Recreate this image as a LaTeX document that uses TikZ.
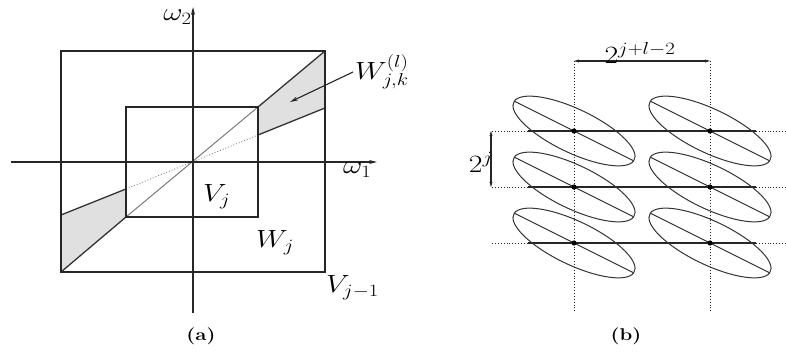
\documentclass[tikz,border=0pt]{standalone}
\usepackage{graphicx}
\usetikzlibrary{arrows.meta}
\newcommand\hstretch[1]{\scalebox{1.2}[1]{#1}}
\begin{document}
\begin{tikzpicture}[x=1pt,y=-1pt,
  lbl/.style={inner sep=0pt, font=\fontsize{27}{30}\selectfont},
  captxt/.style={inner sep=0pt, font=\fontsize{17}{19}\selectfont\bfseries},
  ln/.style={line width=1.2pt, draw=black!85},
  wedgeline/.style={line width=1.3pt, draw=black!80},
  ax/.style={line width=1.2pt, draw=black!85, -{Stealth[length=8pt,width=4pt]}},
  wfill/.style={fill=black!12},
  elli/.style={line width=1pt, draw=black!80},
  dgrid/.style={line width=0.9pt, draw=black!85, dotted},
  dimline/.style={line width=1.1pt, draw=black!85, {Stealth[length=5pt,width=3pt]}-{Stealth[length=5pt,width=3pt]}},
  dotf/.style={fill=black}
]
\useasboundingbox (0,0) rectangle (786,352);

% ---------- panel (a) ----------
\coordinate (O) at (193,162);
\coordinate (oTL) at (61,51);  \coordinate (oBR) at (325,272);
\coordinate (iTL) at (126,107); \coordinate (iBR) at (258,217);
\coordinate (oTR) at (325,51); \coordinate (oBL) at (61,272);
\coordinate (iTR) at (258,107); \coordinate (iBL) at (126,217);
\coordinate (uR) at (325,108); \coordinate (uI) at (258,135);
\coordinate (lL) at (61,215);  \coordinate (lI) at (126,189);

\fill[wfill] (iTR) -- (oTR) -- (uR) -- (uI) -- cycle;
\fill[wfill] (iBL) -- (oBL) -- (lL) -- (lI) -- cycle;

\draw[line width=0.9pt, draw=black!55] (iBL) -- (iTR);
\draw[line width=0.9pt, draw=black!50, dotted] (lI) -- (uI);

\draw[wedgeline] (iTR) -- (oTR);
\draw[wedgeline] (uI) -- (uR);
\draw[wedgeline] (iBL) -- (oBL);
\draw[wedgeline] (lI) -- (lL);

\draw[ln] (oTL) rectangle (oBR);
\draw[ln] (iTL) rectangle (iBR);

\coordinate (xa0) at (11,162); \coordinate (xa1) at (377,162);
\coordinate (ya0) at (193,313); \coordinate (ya1) at (193,7);
\draw[ax] (xa0) -- (xa1);
\draw[ax] (ya0) -- (ya1);

\node[lbl, anchor=base east] (w2) at (192,21) {\hstretch{$\omega_2$}};
\node[lbl, anchor=base west] (w1) at (343,174) {\hstretch{$\omega_1$}};
\node[lbl, anchor=base west] (vj) at (203,202) {\hstretch{$V_j$}};
\node[lbl, anchor=base west] (wj) at (256,248) {\hstretch{$W_j$}};
\node[lbl, anchor=base west] (vj1) at (326,293) {\hstretch{$V_{j-1}$}};
\node[lbl, anchor=base west] (wjk) at (355,80) {\hstretch{$W^{(l)}_{j,k}$}};
\coordinate (wa) at (353,72);
\coordinate (wt) at (290,102);
\draw[line width=1.1pt, draw=black!85, -{Stealth[length=8pt,width=4pt]}] (wa) -- (wt);

\node[captxt] (ca) at (201,336) {\hstretch{(a)}};

% ---------- panel (b) ----------
\foreach \y [count=\r] in {131,187,243} {
  \coordinate (hl\r) at (492,\y);
  \coordinate (hr\r) at (786,\y);
  \coordinate (sl\r) at (528,\y);
  \coordinate (sr\r) at (756,\y);
  \draw[dgrid] (hl\r) -- (hr\r);
  \draw[line width=1.1pt, draw=black!85] (sl\r) -- (sr\r);
}
\foreach \x [count=\c] in {574,710} {
  \coordinate (vt\c) at (\x,61);
  \coordinate (vb\c) at (\x,312);
  \draw[dgrid] (vt\c) -- (vb\c);
}
\foreach \x in {574,710} {
  \foreach \y in {131,187,243} {
    \begin{scope}[shift={(\x,\y)}, xscale=1.2, rotate=-31]
      \draw[elli] (0,0) ellipse [x radius=58pt, y radius=21pt];
      \draw[elli] (-58pt,0pt) -- (58pt,0pt);
    \end{scope}
    \fill[dotf] (\x,\y) circle (2.6pt);
  }
}

\draw[dimline] (vt1) -- (vt2);
\node[lbl, anchor=base] (dx) at (640,64) {\hstretch{$2^{j+l-2}$}};
\coordinate (d1) at (491,131); \coordinate (d2) at (491,187);
\draw[dimline] (d1) -- (d2);
\node[lbl, anchor=base east] (dy) at (493,173) {\hstretch{$2^j$}};

\node[captxt] (cb) at (626,336) {\hstretch{(b)}};
\end{tikzpicture}
\end{document}
